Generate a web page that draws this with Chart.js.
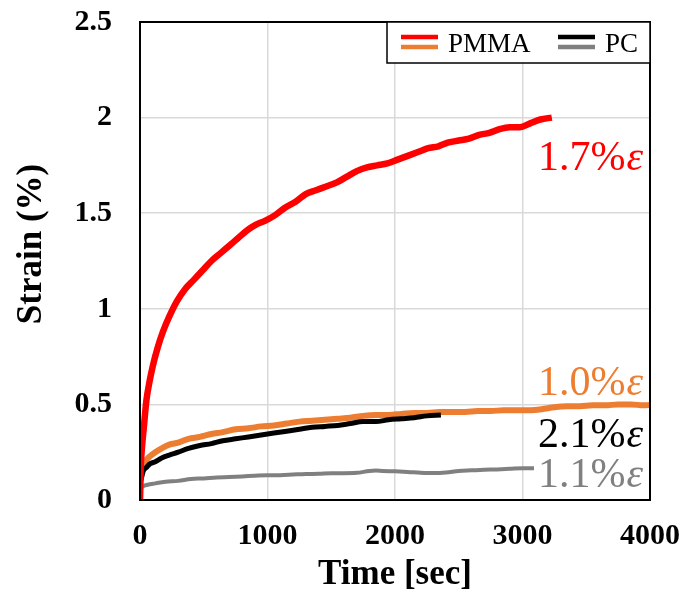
<!DOCTYPE html>
<html>
<head>
<meta charset="utf-8">
<script src="https://cdn.jsdelivr.net/npm/chart.js@4.4.1/dist/chart.umd.min.js"></script>
<style>
  html, body { margin: 0; padding: 0; background: #fff; }
  #wrap { width: 686px; height: 596px; }
</style>
</head>
<body>
<div id="wrap"><canvas id="chartStrain"></canvas></div>
<script>
// Creep strain vs time, PMMA and PC at different stress levels
const xTicks = [0, 1000, 2000, 3000, 4000];
const xTickLabels = ["0", "1000", "2000", "3000", "4000"];
const yTicks = [0, 0.5, 1, 1.5, 2, 2.5];
const yTickLabels = ["0", "0.5", "1", "1.5", "2", "2.5"];

// PMMA, 1.7% strain level
const pmma17Time = [0, 5, 15, 30, 50, 75, 100, 140, 180, 230, 290, 350, 420, 490, 560, 630, 700, 770, 840, 910, 980, 1060, 1140, 1220, 1300, 1380, 1460, 1540, 1620, 1700, 1780, 1860, 1940, 2020, 2100, 2180, 2260, 2340, 2420, 2500, 2580, 2660, 2740, 2820, 2900, 2980, 3060, 3140, 3230];
const pmma17Strain = [0, 0.16, 0.27, 0.38, 0.52, 0.62, 0.70, 0.80, 0.88, 0.96, 1.04, 1.10, 1.15, 1.20, 1.25, 1.29, 1.33, 1.37, 1.41, 1.44, 1.46, 1.49, 1.53, 1.56, 1.60, 1.62, 1.64, 1.66, 1.69, 1.72, 1.74, 1.75, 1.76, 1.78, 1.80, 1.82, 1.84, 1.85, 1.87, 1.88, 1.89, 1.91, 1.92, 1.94, 1.95, 1.95, 1.97, 1.99, 2.00];

// PMMA, 1.0% strain level
const pmma10Time = [0, 3, 10, 25, 50, 80, 120, 170, 230, 300, 380, 470, 560, 650, 750, 850, 950, 1050, 1150, 1250, 1350, 1450, 1550, 1650, 1750, 1850, 1950, 2050, 2150, 2250, 2350, 2450, 2550, 2650, 2750, 2850, 2950, 3050, 3150, 3250, 3350, 3450, 3550, 3650, 3750, 3850, 3950, 4000];
const pmma10Strain = [0, 0.10, 0.14, 0.18, 0.21, 0.23, 0.25, 0.27, 0.29, 0.30, 0.32, 0.33, 0.345, 0.355, 0.37, 0.375, 0.385, 0.39, 0.40, 0.41, 0.415, 0.42, 0.425, 0.43, 0.44, 0.445, 0.445, 0.45, 0.455, 0.455, 0.46, 0.46, 0.46, 0.465, 0.465, 0.47, 0.47, 0.47, 0.475, 0.485, 0.49, 0.49, 0.495, 0.495, 0.50, 0.50, 0.495, 0.497];

// PC, 2.1% strain level
const pc21Time = [0, 3, 10, 25, 50, 80, 120, 170, 230, 300, 380, 470, 560, 650, 750, 850, 950, 1050, 1150, 1250, 1350, 1450, 1550, 1650, 1750, 1850, 1950, 2050, 2150, 2250, 2360];
const pc21Strain = [0, 0.08, 0.11, 0.15, 0.17, 0.19, 0.20, 0.22, 0.235, 0.25, 0.27, 0.285, 0.295, 0.31, 0.32, 0.33, 0.34, 0.35, 0.36, 0.37, 0.38, 0.385, 0.39, 0.40, 0.41, 0.41, 0.42, 0.425, 0.43, 0.44, 0.445];

// PC, 1.1% strain level
const pc11Time = [0, 5, 20, 60, 120, 200, 300, 400, 500, 600, 700, 800, 900, 1000, 1100, 1200, 1300, 1400, 1500, 1600, 1700, 1800, 1850, 1900, 2000, 2100, 2200, 2300, 2400, 2500, 2600, 2700, 2800, 2900, 3000, 3090];
const pc11Strain = [0, 0.05, 0.07, 0.08, 0.087, 0.095, 0.10, 0.11, 0.113, 0.118, 0.12, 0.123, 0.127, 0.13, 0.13, 0.133, 0.136, 0.137, 0.14, 0.14, 0.142, 0.152, 0.154, 0.152, 0.15, 0.147, 0.143, 0.141, 0.144, 0.152, 0.155, 0.158, 0.16, 0.163, 0.166, 0.166];

// curve labels: text, colour, anchor time (right edge), anchor strain (baseline)
const curveLabels = [
  { num: "1.7%", color: "#ff0000", t: 3945, v: 1.726 },
  { num: "1.0%", color: "#ed7d31", t: 3945, v: 0.549 },
  { num: "2.1%", color: "#000000", t: 3945, v: 0.277 },
  { num: "1.1%", color: "#808080", t: 3945, v: 0.068 }
];

const legendItems = [
  { text: "PMMA", colors: ["#ff0000", "#ed7d31"] },
  { text: "PC", colors: ["#000000", "#808080"] }
];

const serif = "'Times New Roman', 'Liberation Serif', serif";
const toPoints = (ts, vs) => ts.map((t, i) => ({ x: t, y: vs[i] }));

const extras = {
  id: "extras",
  afterDatasetsDraw(chart) {
    const { ctx, chartArea: a, scales: { x, y } } = chart;
    ctx.save();

    // plot frame
    ctx.strokeStyle = "#000";
    ctx.lineWidth = 2;
    ctx.strokeRect(a.left, a.top, a.right - a.left, a.bottom - a.top);

    // curve labels
    ctx.textBaseline = "alphabetic";
    ctx.textAlign = "right";
    curveLabels.forEach(l => {
      const px = x.getPixelForValue(l.t);
      const py = y.getPixelForValue(l.v);
      ctx.fillStyle = l.color;
      ctx.font = "italic 42px " + serif;
      const ew = ctx.measureText("\u03b5").width;
      ctx.fillText("\u03b5", px, py);
      ctx.font = "42px " + serif;
      ctx.fillText(l.num, px - ew - 1, py);
    });

    // legend box
    const lx = 387, ly = a.top, lw = a.right - lx, lh = 41;
    ctx.fillStyle = "#fff";
    ctx.fillRect(lx, ly, lw, lh);
    ctx.lineWidth = 1.5;
    ctx.strokeStyle = "#000";
    ctx.strokeRect(lx, ly, lw, lh);
    ctx.font = "27px " + serif;
    ctx.textAlign = "left";
    ctx.fillStyle = "#000";
    const starts = [401, 558];
    legendItems.forEach((item, i) => {
      const sx = starts[i];
      ctx.lineWidth = 4.5;
      item.colors.forEach((c, k) => {
        ctx.strokeStyle = c;
        ctx.beginPath();
        ctx.moveTo(sx, ly + 15 + k * 10);
        ctx.lineTo(sx + 37, ly + 15 + k * 10);
        ctx.stroke();
      });
      ctx.fillText(item.text, sx + 47, ly + 30);
    });

    // axis titles
    ctx.fillStyle = "#000";
    ctx.font = "bold 35px " + serif;
    ctx.textAlign = "center";
    ctx.textBaseline = "middle";
    ctx.fillText("Time [sec]", (a.left + a.right) / 2, 575);
    ctx.translate(32, 244);
    ctx.rotate(-Math.PI / 2);
    ctx.fillText("Strain (%)", 0, 0);
    ctx.restore();
  }
};

const lineSet = (label, pts, color, width, order) => ({
  label, data: pts, borderColor: color, backgroundColor: color,
  borderWidth: width, pointRadius: 0, showLine: true,
  cubicInterpolationMode: "monotone", order
});

new Chart(document.getElementById("chartStrain"), {
  type: "scatter",
  data: {
    datasets: [
      lineSet("PMMA 1.7%", toPoints(pmma17Time, pmma17Strain), "#ff0000", 6.5, 1),
      lineSet("PC 2.1%", toPoints(pc21Time, pc21Strain), "#000000", 5, 2),
      lineSet("PMMA 1.0%", toPoints(pmma10Time, pmma10Strain), "#ed7d31", 6, 3),
      lineSet("PC 1.1%", toPoints(pc11Time, pc11Strain), "#808080", 4, 4)
    ]
  },
  options: {
    responsive: true,
    maintainAspectRatio: false,
    animation: false,
    devicePixelRatio: 1,
    layout: { padding: { top: 22, right: 36, left: 0, bottom: 0 } },
    plugins: { legend: { display: false }, tooltip: { enabled: false } },
    scales: {
      x: {
        type: "linear", min: 0, max: 4000,
        afterBuildTicks: s => { s.ticks = xTicks.map(v => ({ value: v })); },
        afterFit: s => { s.height = 96; s.paddingLeft = 0; s.paddingRight = 0; },
        ticks: {
          callback: (v, i) => xTickLabels[i],
          font: { family: serif, size: 30, weight: "bold" },
          color: "#000", padding: 18, maxRotation: 0
        },
        grid: { color: "#d9d9d9", lineWidth: 1.5, drawTicks: false },
        border: { display: false }
      },
      y: {
        type: "linear", min: 0, max: 2.5,
        afterBuildTicks: s => { s.ticks = yTicks.map(v => ({ value: v })); },
        afterFit: s => { s.width = 140; s.paddingTop = 0; s.paddingBottom = 0; },
        ticks: {
          callback: (v, i) => yTickLabels[i],
          font: { family: serif, size: 30, weight: "bold" },
          color: "#000", padding: 28
        },
        grid: { color: "#d9d9d9", lineWidth: 1.5, drawTicks: false },
        border: { display: false }
      }
    }
  },
  plugins: [extras]
});
</script>
</body>
</html>
